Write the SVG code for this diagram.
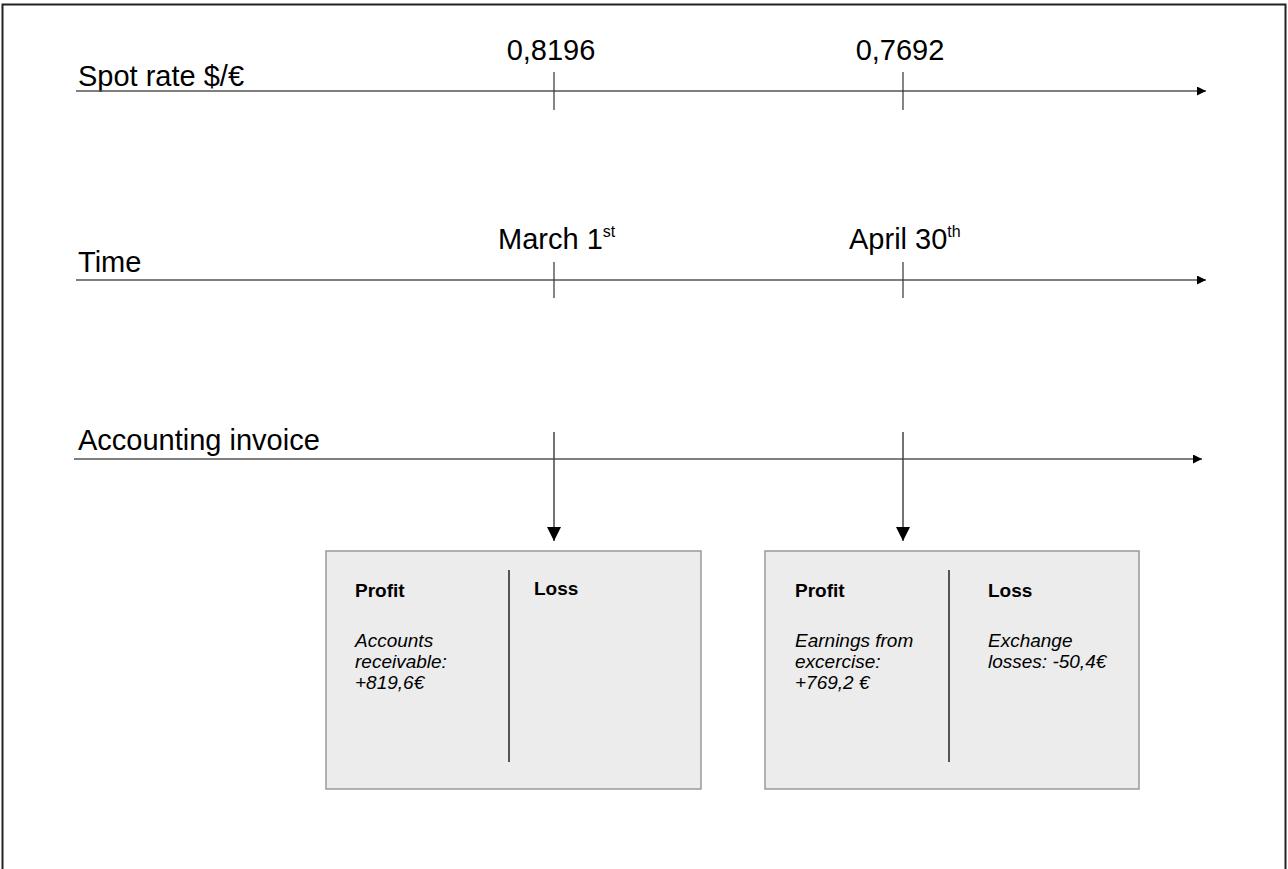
<svg xmlns="http://www.w3.org/2000/svg" width="1288" height="869" viewBox="0 0 1288 869">
  <style>
    .axis { stroke: #555; stroke-width: 1.6; fill: none; }
    .tick { stroke: #333; stroke-width: 1.2; fill: none; }
    .conn { stroke: #444; stroke-width: 1.5; fill: none; }
    .lbl { font-family: "Liberation Sans", Arial, sans-serif; font-size: 29px; fill: #000; }
    .sup { font-size: 16px; }
    .box { fill: #ececec; stroke: #999; stroke-width: 1.5; }
    .div { stroke: #555; stroke-width: 2; }
    .hd { font-family: "Liberation Sans", Arial, sans-serif; font-size: 19px; font-weight: bold; fill: #000; }
    .it { font-family: "Liberation Sans", Arial, sans-serif; font-size: 19px; font-style: italic; fill: #000; }
  </style>
  <defs>
    <marker id="arr" viewBox="0 0 10 10" refX="10" refY="5" markerWidth="13" markerHeight="9" markerUnits="userSpaceOnUse" orient="auto">
      <path d="M0,0 L10,5 L0,10 z" fill="#000"/>
    </marker>
    <marker id="arrDown" viewBox="0 0 10 10" refX="10" refY="5" markerWidth="20" markerHeight="14" markerUnits="userSpaceOnUse" orient="auto">
      <path d="M0,0 L10,5 L0,10 z" fill="#000"/>
    </marker>
  </defs>

  <!-- page frame -->
  <path d="M2.5,869 L2.5,4.5 L1285.5,4.5 L1285.5,869" fill="none" stroke="#222" stroke-width="2"/>

  <!-- spot rate row -->
  <g id="spot-rate">
    <text class="lbl" x="78" y="86">Spot rate $/€</text>
    <line class="axis" x1="76" y1="91" x2="1206" y2="91" marker-end="url(#arr)"/>
    <line class="tick" x1="554" y1="72" x2="554" y2="110"/>
    <line class="tick" x1="903" y1="72" x2="903" y2="110"/>
    <text class="lbl" x="551" y="60" text-anchor="middle">0,8196</text>
    <text class="lbl" x="900" y="60" text-anchor="middle">0,7692</text>
  </g>

  <!-- time row -->
  <g id="time">
    <text class="lbl" x="78" y="272">Time</text>
    <line class="axis" x1="76" y1="280" x2="1206" y2="280" marker-end="url(#arr)"/>
    <line class="tick" x1="554" y1="262" x2="554" y2="298"/>
    <line class="tick" x1="903" y1="262" x2="903" y2="298"/>
    <text class="lbl" x="498" y="249">March 1<tspan class="sup" dy="-12">st</tspan></text>
    <text class="lbl" x="849" y="249">April 30<tspan class="sup" dy="-12">th</tspan></text>
  </g>

  <!-- accounting row -->
  <g id="accounting">
    <text class="lbl" x="78" y="450">Accounting invoice</text>
    <line class="axis" x1="74" y1="459" x2="1202" y2="459" marker-end="url(#arr)"/>
  </g>

  <!-- connectors down to the ledgers -->
  <g id="connectors">
    <line class="conn" x1="554" y1="432" x2="554" y2="541" marker-end="url(#arrDown)"/>
    <line class="conn" x1="903" y1="432" x2="903" y2="541" marker-end="url(#arrDown)"/>
  </g>

  <!-- ledger on March 1st -->
  <g id="ledger-march">
    <rect class="box" x="326" y="551" width="375" height="238"/>
    <line class="div" x1="509" y1="570" x2="509" y2="762"/>
    <text class="hd" x="355" y="597">Profit</text>
    <text class="hd" x="534" y="595">Loss</text>
    <text class="it" x="355" y="647">Accounts</text>
    <text class="it" x="355" y="668">receivable:</text>
    <text class="it" x="355" y="689">+819,6€</text>
  </g>

  <!-- ledger on April 30th -->
  <g id="ledger-april">
    <rect class="box" x="765" y="551" width="374" height="238"/>
    <line class="div" x1="949" y1="570" x2="949" y2="762"/>
    <text class="hd" x="795" y="597">Profit</text>
    <text class="hd" x="988" y="597">Loss</text>
    <text class="it" x="795" y="647">Earnings from</text>
    <text class="it" x="795" y="668">excercise:</text>
    <text class="it" x="795" y="689">+769,2 €</text>
    <text class="it" x="988" y="647">Exchange</text>
    <text class="it" x="988" y="668">losses: -50,4€</text>
  </g>
</svg>
